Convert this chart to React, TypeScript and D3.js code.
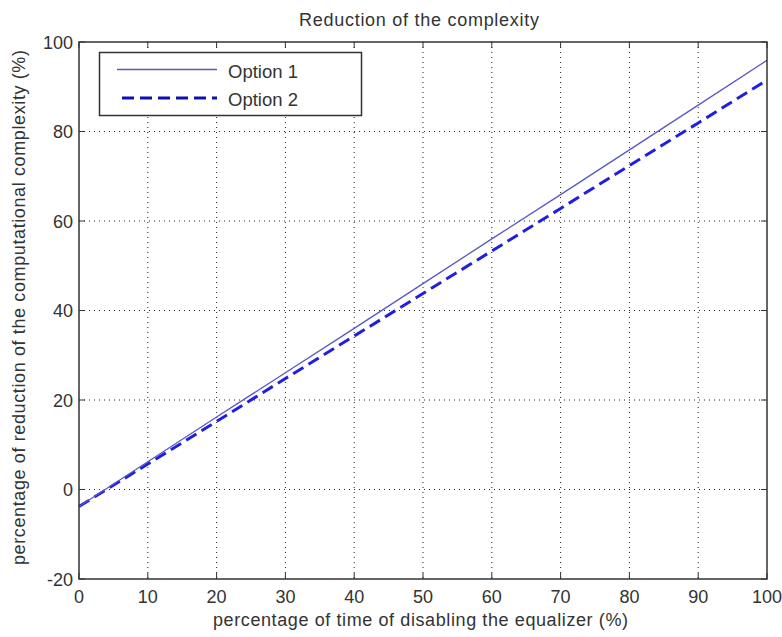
import React from "react";
import * as d3 from "d3";

const xValues = [0, 10, 20, 30, 40, 50, 60, 70, 80, 90, 100];
const option1 = [-3.8, 6.2, 16.2, 26.1, 36.0, 46.0, 56.0, 65.9, 75.9, 85.9, 95.9];
const option2 = [-3.8, 5.7, 15.2, 24.8, 34.3, 43.8, 53.3, 62.8, 72.4, 81.9, 91.5];
const xTicks = [0, 10, 20, 30, 40, 50, 60, 70, 80, 90, 100];
const yTicks = [-20, 0, 20, 40, 60, 80, 100];
const seriesNames = ["Option 1", "Option 2"];
const title = "Reduction of the complexity";
const xLabel = "percentage of time of disabling the equalizer (%)";
const yLabel = "percentage of reduction of the computational complexity (%)";

export default function App() {
  const W = 782, H = 637;
  const left = 79, right = 767, top = 42, bottom = 579;
  const x = d3.scaleLinear().domain([0, 100]).range([left, right]);
  const y = d3.scaleLinear().domain([-20, 100]).range([bottom, top]);
  const line = d3.line<number>().x((_, i) => x(xValues[i])).y((d) => y(d));
  const font = "'Liberation Sans', Arial, sans-serif";
  const c1 = "#5858c8";
  const c2 = "#1f1fe0";
  const txt = "#333";
  return (
    <svg width={W} height={H} style={{ position: "absolute", left: 0, top: 0, background: "#fff" }}>
      <rect x={0} y={0} width={W} height={H} fill="#fff" />
      {/* grid */}
      {xTicks.slice(1, -1).map((t) => (
        <line key={"gx" + t} x1={x(t)} x2={x(t)} y1={top} y2={bottom} stroke="#222" strokeWidth={1} strokeDasharray="1,4" />
      ))}
      {yTicks.slice(1, -1).map((t) => (
        <line key={"gy" + t} x1={left} x2={right} y1={y(t)} y2={y(t)} stroke="#222" strokeWidth={1} strokeDasharray="1,4" />
      ))}
      {/* ticks */}
      {xTicks.map((t) => (
        <g key={"tx" + t}>
          <line x1={x(t)} x2={x(t)} y1={bottom} y2={bottom - 6} stroke="#333" />
          <line x1={x(t)} x2={x(t)} y1={top} y2={top + 6} stroke="#333" />
          <text x={x(t)} y={bottom + 24} textAnchor="middle" fontFamily={font} fontSize={18} fill={txt}>{t}</text>
        </g>
      ))}
      {yTicks.map((t) => (
        <g key={"ty" + t}>
          <line x1={left} x2={left + 6} y1={y(t)} y2={y(t)} stroke="#333" />
          <line x1={right} x2={right - 6} y1={y(t)} y2={y(t)} stroke="#333" />
          <text x={left - 6} y={y(t) + 6.5} textAnchor="end" fontFamily={font} fontSize={18} fill={txt}>{t}</text>
        </g>
      ))}
      {/* data */}
      <path d={line(option2) || ""} fill="none" stroke={c2} strokeWidth={3} strokeDasharray="12,6" />
      <path d={line(option1) || ""} fill="none" stroke={c1} strokeWidth={1.3} />
      {/* frame */}
      <rect x={left} y={top} width={right - left} height={bottom - top} fill="none" stroke="#333" strokeWidth={1.5} />
      {/* legend */}
      <rect x={99.5} y={52.5} width={262} height={63} fill="#fff" stroke="#333" strokeWidth={1.5} />
      <line x1={117} x2={217} y1={69.5} y2={69.5} stroke={c1} strokeWidth={1.3} />
      <text x={228} y={78} fontFamily={font} fontSize={18.5} fill={txt}>{seriesNames[0]}</text>
      <line x1={122} x2={217} y1={98} y2={98} stroke="#1010b0" strokeWidth={3} strokeDasharray="12,6" />
      <text x={228} y={106} fontFamily={font} fontSize={18.5} fill={txt}>{seriesNames[1]}</text>
      {/* labels */}
      <text x={419} y={26} textAnchor="middle" fontFamily={font} fontSize={18} textLength={240} lengthAdjust="spacing" fill={txt}>{title}</text>
      <text x={420.5} y={626} textAnchor="middle" fontFamily={font} fontSize={18} textLength={415} lengthAdjust="spacing" fill={txt}>{xLabel}</text>
      <text transform={`translate(25, 307.5) rotate(-90)`} textAnchor="middle" fontFamily={font} fontSize={18} textLength={515} lengthAdjust="spacing" fill={txt}>{yLabel}</text>
    </svg>
  );
}
